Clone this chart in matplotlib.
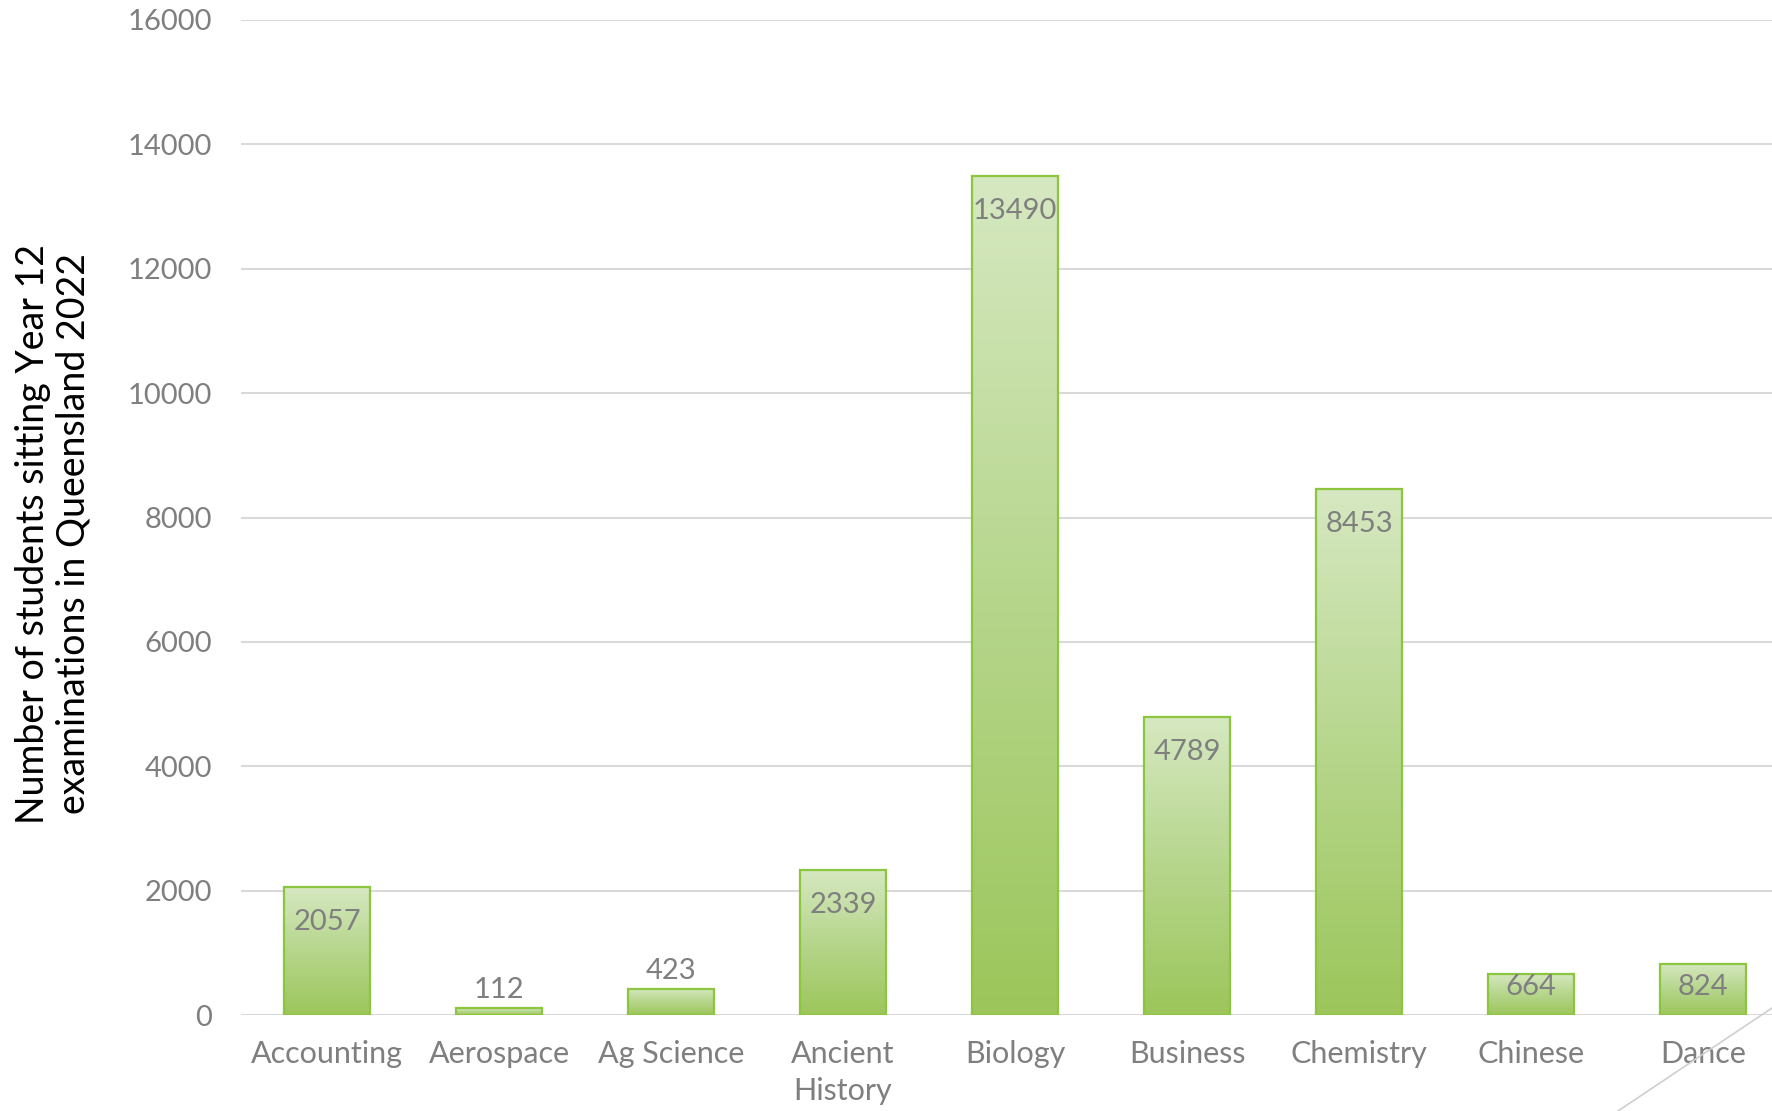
import numpy as np
import matplotlib
matplotlib.use("Agg")
import matplotlib.pyplot as plt
from matplotlib.colors import LinearSegmentedColormap
from matplotlib.lines import Line2D

# Year 12 exam candidates by subject, Queensland 2022
subjects = ["Accounting", "Aerospace", "Ag Science", "Ancient\nHistory", "Biology",
            "Business", "Chemistry", "Chinese", "Dance"]
students = [2057, 112, 423, 2339, 13490, 4789, 8453, 664, 824]
y_ticks = [0, 2000, 4000, 6000, 8000, 10000, 12000, 14000, 16000]

plt.rcParams["font.family"] = ["Lato", "DejaVu Sans"]

W, H, DPI = 1772, 1111, 100
fig = plt.figure(figsize=(W / DPI, H / DPI), dpi=DPI)
fig.patch.set_facecolor("white")

# plot area runs a little past the right edge of the canvas
left_px, right_px, top_px, bottom_px = 241, 1789, 20, 1015
ax = fig.add_axes([left_px / W, 1 - bottom_px / H,
                   (right_px - left_px) / W, (bottom_px - top_px) / H])

grey_text = "#7f7f7f"
grid_col = "#d9d9d9"
edge_col = "#8cc63e"
grad = LinearSegmentedColormap.from_list("bar_grad", ["#9cc65b", "#b6d68c", "#d6e8c1"])

x = np.arange(len(subjects))
width = 0.505

gradient = np.linspace(0, 1, 256).reshape(-1, 1)
bars = ax.bar(x, students, width=width, facecolor="none", edgecolor=edge_col,
              linewidth=1.6, zorder=4)
for rect, v in zip(bars, students):
    x0 = rect.get_x()
    im = ax.imshow(gradient, cmap=grad, origin="lower", aspect="auto",
                   extent=[x0, x0 + rect.get_width(), 0, v], zorder=3,
                   interpolation="bilinear")
    im.set_clip_path(rect)

ax.set_xlim(-0.5, len(subjects) - 0.5)
ax.set_ylim(0, 16000)

# horizontal gridlines
ax.set_yticks(y_ticks)
ax.yaxis.grid(True, color=grid_col, linewidth=1.5, zorder=0)
ax.set_axisbelow(True)
for s in ax.spines.values():
    s.set_visible(False)
ax.axhline(0, color=grid_col, linewidth=1.8, zorder=2)

ax.set_yticklabels([str(t) for t in y_ticks], fontsize=21, color=grey_text)
ax.set_xticks(x)
ax.set_xticklabels(subjects, fontsize=22, color=grey_text, linespacing=1.4)
ax.tick_params(axis="y", length=0, pad=21)
ax.tick_params(axis="x", length=0, pad=18)

# value labels
px_per_unit = (bottom_px - top_px) / 16000
for xi, v in zip(x, students):
    top_off = v * px_per_unit
    if v < 500:
        ax.annotate(str(v), (xi, v), xytext=(0, 5), textcoords="offset pixels",
                    ha="center", va="bottom", fontsize=21, color=grey_text, zorder=5)
    else:
        centre_below = min(35, top_off - 28)
        ax.annotate(str(v), (xi, v), xytext=(0, -centre_below), textcoords="offset pixels",
                    ha="center", va="center", fontsize=21, color=grey_text, zorder=5)

fig.text(53 / W, 1 - 534 / H,
         "Number of students sitting Year 12\nexaminations in Queensland 2022",
         rotation=90, ha="center", va="center", fontsize=27, color="black",
         linespacing=1.15)

# thin decorative diagonal in the lower-right corner
fig.add_artist(Line2D([1618 / W, 1.0], [0.0, 1 - 1008 / H], transform=fig.transFigure,
                      color="#cfcfcf", linewidth=1.2))

fig.savefig("out.png", dpi=DPI, facecolor="white")
